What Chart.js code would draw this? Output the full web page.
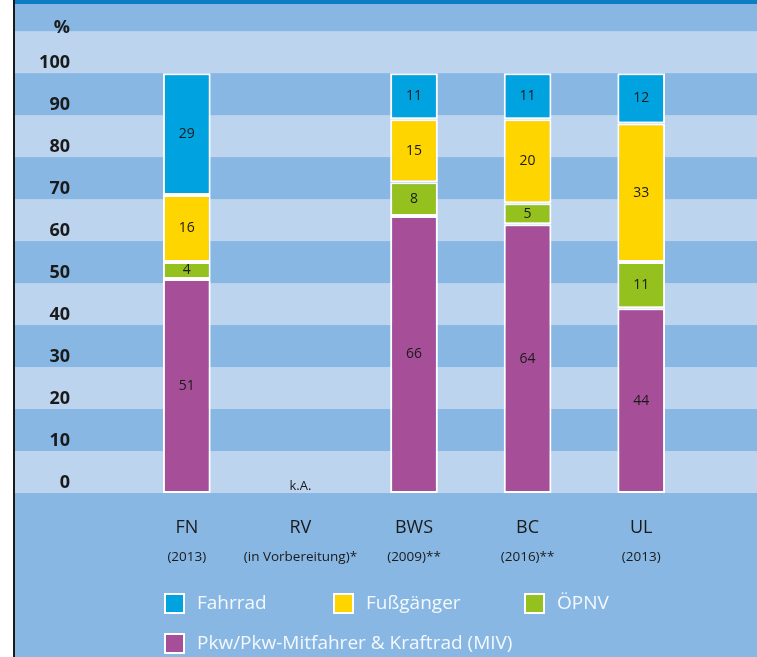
<!DOCTYPE html>
<html lang="de">
<head>
<meta charset="utf-8">
<title>Modal Split</title>
<script src="https://cdn.jsdelivr.net/npm/chart.js@4/dist/chart.umd.min.js"></script>
<style>
  html, body { margin: 0; padding: 0; background: #ffffff; }
  #wrap { width: 757px; height: 657px; position: relative; }
</style>
</head>
<body>
<div id="wrap"><canvas id="modalChart" width="757" height="657"></canvas></div>
<script>
var staedte = ['FN', 'RV', 'BWS', 'BC', 'UL'];
var zusatz = ['(2013)', '(in Vorbereitung)*', '(2009)**', '(2016)**', '(2013)'];

// Anteile in %, null = keine Angabe
var fahrrad = [29, null, 11, 11, 12];
var fussgaenger = [16, null, 15, 20, 33];
var oepnv = [4, null, 8, 5, 11];
var miv = [51, null, 66, 64, 44];

var yTicks = [0, 10, 20, 30, 40, 50, 60, 70, 80, 90, 100];

var DUNKEL = '#88b7e3';
var HELL = '#bdd4ef';

// Hintergrund: Streifen, Randlinie, Kopfleiste
var streifen = {
    id: 'streifen',
    beforeDraw: function(chart) {
        var c = chart.ctx;
        var y = chart.scales.y;
        c.save();
        c.fillStyle = '#ffffff';
        c.fillRect(0, 0, chart.width, chart.height);
        c.fillStyle = DUNKEL;
        c.fillRect(14, 0, chart.width, chart.height);
        c.fillStyle = HELL;
        for (var v = 0; v <= 100; v += 20) {
            var top = y.getPixelForValue(v + 10);
            var bot = y.getPixelForValue(v);
            c.fillRect(14, top, chart.width, bot - top);
        }
        c.fillStyle = '#0b7dc5';
        c.fillRect(14, 0, chart.width, 4);
        c.fillStyle = '#1a1a1a';
        c.fillRect(13, 0, 2, chart.height);
        c.restore();
    }
};

// Werte in den Segmenten, Kategorien unter der Achse, Legende
var beschriftung = {
    id: 'beschriftung',
    afterDatasetsDraw: function(chart) {
        var c = chart.ctx;
        var x = chart.scales.x;
        var y = chart.scales.y;
        c.save();
        c.textAlign = 'center';
        c.textBaseline = 'middle';
        c.fillStyle = '#1a1a1a';
        c.font = '14px "Open Sans"';
        chart.data.datasets.forEach(function(ds, i) {
            var meta = chart.getDatasetMeta(i);
            meta.data.forEach(function(bar, j) {
                if (ds.data[j] == null) return;
                c.fillText(ds.data[j], bar.x, (bar.y + bar.base) / 2);
            });
        });

        // keine Angabe
        var leer = miv.indexOf(null);
        c.font = '13px "Open Sans"';
        c.fillText('k.A.', x.getPixelForValue(leer), y.getPixelForValue(0) - 7);

        staedte.forEach(function(s, i) {
            var px = x.getPixelForValue(i);
            c.font = '18px "Open Sans"';
            c.fillText(s, px, 528);
            c.font = '13.5px "Open Sans"';
            c.fillText(zusatz[i], px, 557);
        });

        // Legende
        var spalten = [[164, 593], [333, 593], [524, 593], [164, 633]];
        c.textAlign = 'left';
        c.font = '19px "Open Sans"';
        chart.data.datasets.slice().reverse().forEach(function(ds, k) {
            var p = spalten[k];
            c.fillStyle = '#ffffff';
            c.fillRect(p[0], p[1], 21, 21);
            c.fillStyle = ds.backgroundColor;
            c.fillRect(p[0] + 2, p[1] + 2, 17, 17);
            c.fillStyle = '#f4f8fc';
            c.fillText(ds.label, p[0] + 33, p[1] + 11);
        });
        c.restore();
    }
};

var ctx = document.getElementById('modalChart').getContext('2d');

var modalChart = new Chart(ctx, {
    type: 'bar',
    data: {
        labels: staedte,
        datasets: [
            { label: 'Pkw/Pkw-Mitfahrer & Kraftrad (MIV)', data: miv, backgroundColor: '#a64f98' },
            { label: 'ÖPNV', data: oepnv, backgroundColor: '#95c11f' },
            { label: 'Fußgänger', data: fussgaenger, backgroundColor: '#ffd500' },
            { label: 'Fahrrad', data: fahrrad, backgroundColor: '#00a3e0' }
        ]
    },
    options: {
        responsive: false,
        animation: false,
        layout: { padding: { left: 0, right: 59, top: 6, bottom: 164 } },
        datasets: {
            bar: {
                borderColor: '#ffffff',
                borderWidth: 2,
                borderSkipped: false,
                categoryPercentage: 1,
                barPercentage: 0.42
            }
        },
        plugins: {
            legend: { display: false },
            tooltip: { enabled: false }
        },
        scales: {
            x: {
                stacked: true,
                display: false
            },
            y: {
                stacked: true,
                min: 0,
                max: 116,
                border: { display: false },
                grid: { display: false, drawTicks: false },
                afterFit: function(scale) {
                    scale.width = 130;
                    scale.paddingTop = 0;
                    scale.paddingBottom = 0;
                },
                afterBuildTicks: function(scale) {
                    // die Einheit "%" sitzt als eigener Tick über der 100
                    scale.ticks = yTicks.map(function(v) { return { value: v }; })
                        .concat([{ value: 108.3 }]);
                },
                ticks: {
                    padding: 60,
                    labelOffset: -10,
                    color: '#1a1a1a',
                    font: { family: '"Open Sans"', size: 18, weight: 'bold' },
                    callback: function(v) { return v > 100 ? '%' : v; }
                }
            }
        }
    },
    plugins: [streifen, beschriftung]
});
</script>
</body>
</html>
